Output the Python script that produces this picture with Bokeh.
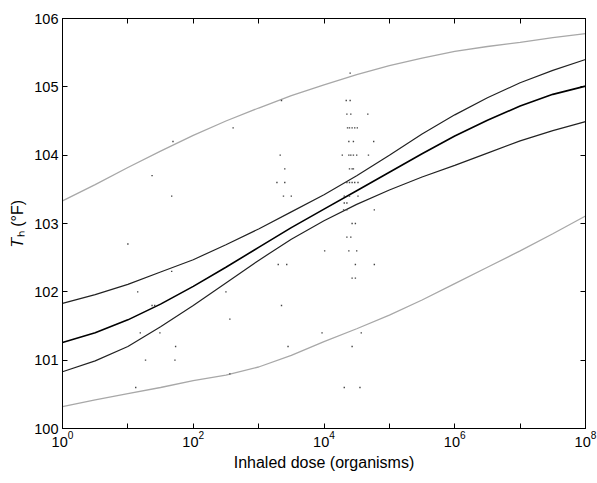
from bokeh.plotting import figure
from bokeh.models import Range1d, FixedTicker, LogAxis, LinearAxis
from bokeh.embed import file_html
from bokeh.resources import INLINE

# ---- data ----
log_dose = [0, 0.5, 1, 1.5, 2, 2.5, 3, 3.5, 4, 4.5, 5, 5.5, 6, 6.5, 7, 7.5, 8]
dose = [10 ** e for e in log_dose]

grey_upper = [103.33, 103.57, 103.82, 104.06, 104.29, 104.50, 104.69, 104.87, 105.03,
              105.18, 105.31, 105.42, 105.52, 105.59, 105.65, 105.72, 105.78]
black_upper = [101.83, 101.96, 102.11, 102.29, 102.47, 102.69, 102.92, 103.17, 103.42,
               103.70, 104.00, 104.31, 104.59, 104.84, 105.06, 105.24, 105.40]
black_mid = [101.26, 101.40, 101.59, 101.82, 102.08, 102.36, 102.65, 102.94, 103.21,
             103.48, 103.75, 104.02, 104.28, 104.51, 104.72, 104.89, 105.01]
black_lower = [100.83, 100.99, 101.20, 101.49, 101.80, 102.13, 102.46, 102.77, 103.04,
               103.28, 103.49, 103.68, 103.85, 104.03, 104.21, 104.36, 104.49]
grey_lower = [100.32, 100.42, 100.51, 100.60, 100.70, 100.78, 100.90, 101.07, 101.27,
              101.46, 101.66, 101.88, 102.12, 102.36, 102.60, 102.85, 103.11]

obs_log_dose = [1.69, 1.37, 1.67, 1.00, 1.67, 1.15, 1.37, 1.41, 1.19, 1.49, 1.73, 1.27, 1.72, 1.12,
                3.35, 2.61, 3.33, 3.40, 3.28, 3.40, 3.38, 3.50, 4.01, 3.30, 3.43, 2.50, 3.35, 2.56,
                3.97, 3.45, 2.56,
                4.40, 4.34, 4.40, 4.35, 4.41, 4.67, 4.36, 4.39, 4.43, 4.47, 4.51, 4.38, 4.45, 4.76,
                4.28, 4.38, 4.41, 4.45, 4.50, 4.68, 4.39, 4.43, 4.45, 4.35, 4.39, 4.43, 4.47, 4.52,
                4.31, 4.39, 4.52, 4.31, 4.35, 4.30, 4.35, 4.77, 4.43, 4.48, 4.35, 4.41, 4.38, 4.50,
                4.48, 4.77, 4.43, 4.48, 4.57, 4.43, 4.31, 4.55]
obs_temp = [104.2, 103.7, 103.4, 102.7, 102.3, 102.0, 101.8, 101.8, 101.4, 101.4, 101.2, 101.0, 101.0, 100.6,
            104.8, 104.4, 104.0, 103.8, 103.6, 103.6, 103.4, 103.4, 102.6, 102.4, 102.4, 102.0, 101.8, 101.6,
            101.4, 101.2, 100.8,
            105.2, 104.8, 104.8, 104.6, 104.6, 104.6, 104.4, 104.4, 104.4, 104.4, 104.4, 104.2, 104.2, 104.2,
            104.0, 104.0, 104.0, 104.0, 104.0, 104.0, 103.8, 103.8, 103.8, 103.6, 103.6, 103.6, 103.6, 103.6,
            103.4, 103.4, 103.4, 103.3, 103.3, 103.2, 103.2, 103.2, 103.0, 103.0, 102.8, 102.8, 102.6, 102.6,
            102.4, 102.4, 102.2, 102.2, 101.4, 101.2, 100.6, 100.6]
obs_dose = [10 ** e for e in obs_log_dose]

x_tick_exp = [0, 1, 2, 3, 4, 5, 6, 7, 8]
x_unlabeled_exp = [1, 3, 5, 7]
y_ticks = [100, 101, 102, 103, 104, 105, 106]
x_title = "Inhaled dose (organisms)"
y_title = "\U0001D447\u2095 (°F)"

FONT = "Liberation Sans"

p = figure(width=597, height=483, x_axis_type="log",
           x_range=Range1d(1, 1e8), y_range=Range1d(100, 106),
           output_backend="svg", toolbar_location=None,
           min_border_left=62, min_border_right=12, min_border_top=18, min_border_bottom=55)
p.grid.visible = False
p.outline_line_color = "black"
p.outline_line_width = 1
p.background_fill_color = "white"
p.border_fill_color = "white"

xa = p.xaxis[0]
xa.ticker = FixedTicker(ticks=[10 ** e for e in x_tick_exp])
xa.major_label_overrides = {10 ** e: "" for e in x_unlabeled_exp}
xa.major_label_text_font = FONT
xa.major_label_text_font_size = "14.5px"
xa.major_label_text_color = "black"
xa.major_label_standoff = 2
xa.axis_label = x_title
xa.axis_label_text_font = FONT
xa.axis_label_text_font_size = "16px"
xa.axis_label_text_font_style = "normal"
xa.axis_label_text_color = "black"
xa.axis_label_standoff = 4

ya = p.yaxis[0]
ya.ticker = FixedTicker(ticks=y_ticks)
ya.major_label_text_font = FONT
ya.major_label_text_font_size = "14.5px"
ya.major_label_text_color = "black"
ya.major_label_standoff = 4
ya.axis_label = y_title
ya.axis_label_text_font = FONT
ya.axis_label_text_font_size = "16px"
ya.axis_label_text_font_style = "normal"
ya.axis_label_text_color = "black"
ya.axis_label_standoff = 5

top = LogAxis(ticker=FixedTicker(ticks=[10 ** e for e in x_tick_exp]),
              major_label_text_font_size="0px")
top.major_label_overrides = {10 ** e: "" for e in x_tick_exp}
right = LinearAxis(ticker=FixedTicker(ticks=y_ticks), major_label_text_font_size="0px")
right.major_label_overrides = {v: "" for v in y_ticks}
p.add_layout(top, "above")
p.add_layout(right, "right")

for ax in [xa, ya, top, right]:
    ax.major_tick_in = 5
    ax.major_tick_out = 0
    ax.minor_tick_line_color = None
    ax.axis_line_color = "black"
    ax.major_tick_line_color = "black"

# curves
p.line(dose, grey_upper, line_color="#a8a8a8", line_width=1.3)
p.line(dose, grey_lower, line_color="#a8a8a8", line_width=1.3)
p.line(dose, black_upper, line_color="#222222", line_width=1.2)
p.line(dose, black_lower, line_color="#222222", line_width=1.2)
p.line(dose, black_mid, line_color="#000000", line_width=1.6)

# observations (tiny dots)
p.scatter(obs_dose, obs_temp, marker="square", size=1.4, fill_color="#444444", line_color=None)

open("out.html", "w").write(file_html(p, INLINE))
